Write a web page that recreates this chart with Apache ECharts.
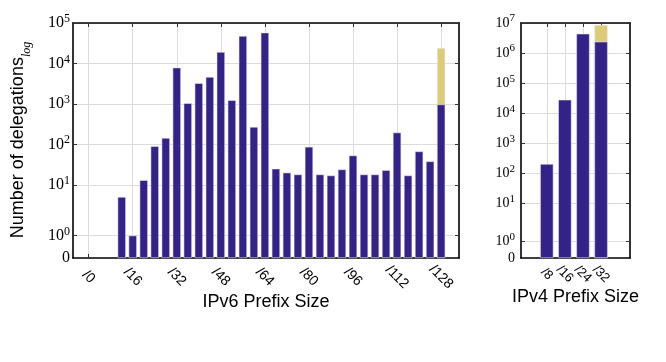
<!DOCTYPE html>
<html><head><meta charset="utf-8">
<script src="https://cdn.jsdelivr.net/npm/echarts@6/dist/echarts.min.js"></script>
<style>html,body{margin:0;padding:0;background:#fff}#c{width:666px;height:362px}</style>
</head><body><div id="c"></div>
<script>
// ---- data ----
const v6Prefixes = [12,16,20,24,28,32,36,40,44,48,52,56,60,64,68,72,76,80,84,88,92,96,100,104,108,112,116,120,124,128];
const v6Counts   = [5,1,13,90,144,7900,1040,3240,4640,19200,1230,47800,270,57900,25,20,18,87,18,17,24,53,18,18,23,196,17,67,38,970];
const v6Extra    = [0,0,0,0,0,0,0,0,0,0,0,0,0,0,0,0,0,0,0,0,0,0,0,0,0,0,0,0,0,23200];
const v6TickValues = [0,16,32,48,64,80,96,112,128];
const v6TickLabels = ['/0','/16','/32','/48','/64','/80','/96','/112','/128'];
const v6YExps = [0,1,2,3,4,5];

const v4Prefixes = [8,16,24,32];
const v4Counts   = [206,28200,4400000,2390000];
const v4Extra    = [0,0,0,6180000];
const v4TickValues = [8,16,24,32];
const v4TickLabels = ['/8','/16','/24','/32'];
const v4YExps = [0,1,2,3,4,5,6,7];

// symlog scale (linthresh 2, linscale 1)
const LIN = 2, LINSCALE = 1/0.9;
function symlog(v){ return v <= LIN ? v / LIN * LINSCALE : LINSCALE + Math.log10(v / LIN); }
function expOf(t){ return Math.round(t - LINSCALE + Math.log10(LIN)); }

const BLUE = '#332288', SAND = '#DDCC77';
const chart = echarts.init(document.getElementById('c'), null, {renderer:'canvas'});

function yLabelFmt(val){
  if (val < 1e-6) return '{b|0}';
  return '{b|10}{s|' + expOf(val) + '}';
}
function richY(big, small, lhB, lhS){
  return {
    b:{fontFamily:'Liberation Serif', fontSize:big, color:'#000', lineHeight:lhB, verticalAlign:'middle'},
    s:{fontFamily:'Liberation Serif', fontSize:small, color:'#000', lineHeight:lhS, verticalAlign:'top'}
  };
}
function yAxes(gridIndex, exps, rich, margin){
  const tickVals = exps.map(e => symlog(Math.pow(10, e)));
  const labelVals = [0].concat(tickVals);
  const maxV = tickVals[tickVals.length-1];
  const axisLine = {show:true, onZero:false, lineStyle:{color:'#000', width:1.6}};
  return [{
    type:'value', gridIndex, position:'left', min:0, max:maxV,
    axisLine,
    axisTick:{show:true, inside:true, length:4, customValues:tickVals, lineStyle:{color:'#333', width:1}},
    axisLabel:{show:true, customValues:labelVals, formatter:yLabelFmt, rich, margin, hideOverlap:false},
    splitLine:{show:true, lineStyle:{color:'#dcdcdc', width:1}}
  },{
    type:'value', gridIndex, position:'right', min:0, max:maxV,
    axisLine,
    axisTick:{show:true, inside:true, length:4, customValues:tickVals, lineStyle:{color:'#333', width:1}},
    axisLabel:{show:false}, splitLine:{show:false}
  }];
}
function xLabel(ticks, labelTicks, labels, fontSize, margin){
  return {show:true, customValues:labelTicks, rotate:-45, align:'center', verticalAlign:'middle', margin,
    hideOverlap:false, showMinLabel:true, showMaxLabel:true,
    fontFamily:'Liberation Sans', fontSize, color:'#000',
    formatter: v => labels[ticks.indexOf(v)]};
}
function xAxes(gridIndex, min, max, ticks, labelTicks, labels, fontSize, margin, name, nameGap){
  const axisLine = {show:true, onZero:false, lineStyle:{color:'#000', width:1.6}};
  return [{
    type:'value', gridIndex, position:'bottom', min, max,
    axisLine,
    axisTick:{show:true, inside:true, length:4, customValues:ticks, lineStyle:{color:'#333'}},
    axisLabel: xLabel(ticks, labelTicks, labels, fontSize, margin),
    splitLine:{show:true, lineStyle:{color:'#dcdcdc', width:1}},
    name, nameLocation:'middle', nameGap, nameMoveOverlap:false,
    nameTextStyle:{fontFamily:'Liberation Sans', fontSize:18, color:'#000'}
  },{
    type:'value', gridIndex, position:'top', min, max,
    axisLine,
    axisTick:{show:true, inside:true, length:4, customValues:ticks, lineStyle:{color:'#333'}},
    axisLabel:{show:false}, splitLine:{show:false}
  }];
}
// extra label-only axis (so that closely spaced rotated labels are all kept)
function labelOnlyAxis(gridIndex, min, max, ticks, labelTicks, labels, fontSize, margin){
  return {
    type:'value', gridIndex, position:'bottom', min, max,
    axisLine:{show:false, onZero:false}, axisTick:{show:false}, splitLine:{show:false},
    axisLabel: xLabel(ticks, labelTicks, labels, fontSize, margin)
  };
}

const v6Blue = v6Prefixes.map((p,i) => [p, symlog(v6Counts[i])]);
const v6Sand = v6Prefixes.map((p,i) => v6Extra[i] > 0 ? [p, symlog(v6Counts[i] + v6Extra[i])] : null).filter(d => d);
const v4Blue = v4Prefixes.map((p,i) => [p, symlog(v4Counts[i])]);
const v4Sand = v4Prefixes.map((p,i) => v4Extra[i] > 0 ? [p, symlog(v4Counts[i] + v4Extra[i])] : null).filter(d => d);

const edge = {borderColor:'rgba(235,235,250,0.9)', borderWidth:0.6};

const v4Odd = v4TickValues.filter((v,i) => i % 2 === 0);
const v4Even = v4TickValues.filter((v,i) => i % 2 === 1);

chart.setOption({
  animation:false,
  backgroundColor:'#fff',
  grid:[
    {left:73, top:23, width:386, height:235},
    {left:521, top:23, width:109, height:235}
  ],
  xAxis: xAxes(0, -5.7, 134.5, v6TickValues, v6TickValues, v6TickLabels, 14, 19, 'IPv6 Prefix Size', 35)
    .concat(xAxes(1, -3.4, 44.8, v4TickValues, v4Odd, v4TickLabels, 13, 16, 'IPv4 Prefix Size', 30))
    .concat([labelOnlyAxis(1, -3.4, 44.8, v4TickValues, v4Even, v4TickLabels, 13, 16)]),
  yAxis: yAxes(0, v6YExps, richY(16, 12, 20, 11), 3).concat(yAxes(1, v4YExps, richY(14, 11, 20, 10), 6)),
  series:[
    {type:'bar', xAxisIndex:0, yAxisIndex:0, data:v6Sand, barWidth:8.3, barGap:'-100%', itemStyle:Object.assign({color:SAND}, edge)},
    {type:'bar', xAxisIndex:0, yAxisIndex:0, data:v6Blue, barWidth:8.3, barGap:'-100%', itemStyle:Object.assign({color:BLUE}, edge)},
    {type:'bar', xAxisIndex:2, yAxisIndex:2, data:v4Sand, barWidth:13.3, barGap:'-100%', itemStyle:Object.assign({color:SAND}, edge)},
    {type:'bar', xAxisIndex:2, yAxisIndex:2, data:v4Blue, barWidth:13.3, barGap:'-100%', itemStyle:Object.assign({color:BLUE}, edge)}
  ],
  graphic:[{
    type:'text', x:21, y:140, rotation:Math.PI/2,
    style:{
      text:'{a|Number of delegations}{b|log}',
      align:'center', verticalAlign:'middle',
      rich:{
        a:{fontFamily:'Liberation Sans', fontSize:18, color:'#000', lineHeight:24, verticalAlign:'top'},
        b:{fontFamily:'Liberation Serif', fontStyle:'italic', fontSize:12, color:'#000', lineHeight:13, verticalAlign:'bottom'}
      }
    }
  }]
});
</script></body></html>
